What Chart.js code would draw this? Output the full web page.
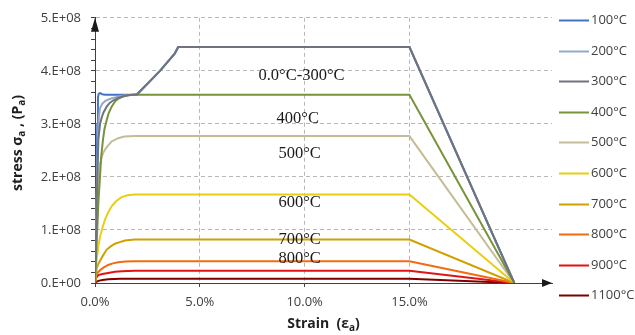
<!DOCTYPE html>
<html>
<head>
<meta charset="utf-8">
<script src="https://cdn.jsdelivr.net/npm/chart.js@4/dist/chart.umd.min.js"></script>
<style>
  body { margin: 0; background: #fff; }
</style>
</head>
<body>
<canvas id="stress-chart" width="635" height="335"></canvas>
<script>
// Temperature series (legend order) and line colours
const temperatures = ['100°C', '200°C', '300°C', '400°C', '500°C', '600°C', '700°C', '800°C', '900°C', '1100°C'];
const lineColors = ['#4472c4', '#93a9c9', '#6e737d', '#77933c', '#c4bd97', '#e8cf12', '#d0a000', '#f26b12', '#e01414', '#7f0000'];

// Strain (fraction) / stress (Pa) points for each temperature
const strain100 = [0, 0.0006, 0.0011, 0.0014, 0.0018, 0.0024, 0.0035, 0.0048, 0.02, 0.031, 0.0381, 0.0397, 0.15, 0.20];
const stress100 = [0, 1.5e8, 3.0e8, 3.5e8, 3.57e8, 3.58e8, 3.56e8, 3.55e8, 3.55e8, 4.0e8, 4.33e8, 4.45e8, 4.45e8, 0];

const strain200 = [0, 0.0008, 0.0014, 0.0019, 0.0024, 0.0035, 0.0048, 0.007, 0.0095, 0.0143, 0.02, 0.031, 0.0381, 0.0397, 0.15, 0.20];
const stress200 = [0, 1.6e8, 2.8e8, 3.15e8, 3.3e8, 3.38e8, 3.43e8, 3.47e8, 3.5e8, 3.54e8, 3.55e8, 4.0e8, 4.33e8, 4.45e8, 4.45e8, 0];

const strain300 = [0, 0.0008, 0.0016, 0.0024, 0.0032, 0.004, 0.0055, 0.0071, 0.009, 0.0111, 0.0135, 0.0159, 0.02, 0.031, 0.0381, 0.0397, 0.15, 0.20];
const stress300 = [0, 1.5e8, 2.7e8, 3.0e8, 3.12e8, 3.21e8, 3.32e8, 3.4e8, 3.45e8, 3.49e8, 3.52e8, 3.54e8, 3.56e8, 4.0e8, 4.33e8, 4.45e8, 4.45e8, 0];

const strain400 = [0, 0.0016, 0.003, 0.0038, 0.0045, 0.0055, 0.0065, 0.008, 0.0095, 0.011, 0.013, 0.0155, 0.018, 0.15, 0.20];
const stress400 = [0, 1.5e8, 2.4e8, 2.7e8, 2.9e8, 3.06e8, 3.2e8, 3.33e8, 3.42e8, 3.47e8, 3.51e8, 3.54e8, 3.55e8, 3.55e8, 0];

const strain500 = [0, 0.0008, 0.0016, 0.0024, 0.0032, 0.004, 0.005, 0.006, 0.008, 0.0095, 0.011, 0.014, 0.019, 0.15, 0.20];
const stress500 = [0, 1.2e8, 2.0e8, 2.25e8, 2.37e8, 2.46e8, 2.53e8, 2.58e8, 2.67e8, 2.7e8, 2.73e8, 2.76e8, 2.77e8, 2.77e8, 0];

const strain600 = [0, 0.0008, 0.0016, 0.0024, 0.0036, 0.0048, 0.0064, 0.008, 0.01, 0.0127, 0.0155, 0.019, 0.15, 0.20];
const stress600 = [0, 0.45e8, 0.7e8, 0.87e8, 1.05e8, 1.2e8, 1.34e8, 1.45e8, 1.54e8, 1.62e8, 1.655e8, 1.67e8, 1.67e8, 0];

const strain700 = [0, 0.0008, 0.0016, 0.0024, 0.004, 0.0056, 0.0075, 0.0095, 0.0118, 0.0143, 0.019, 0.15, 0.20];
const stress700 = [0, 0.28e8, 0.36e8, 0.42e8, 0.53e8, 0.63e8, 0.69e8, 0.74e8, 0.77e8, 0.8e8, 0.82e8, 0.82e8, 0];

const strain800 = [0, 0.0006, 0.0014, 0.0024, 0.004, 0.0063, 0.0085, 0.0111, 0.0145, 0.019, 0.15, 0.20];
const stress800 = [0, 0.15e8, 0.2e8, 0.24e8, 0.29e8, 0.34e8, 0.37e8, 0.39e8, 0.405e8, 0.41e8, 0.41e8, 0];

const strain900 = [0, 0.0006, 0.0016, 0.0035, 0.0063, 0.0095, 0.0127, 0.019, 0.15, 0.20];
const stress900 = [0, 0.1e8, 0.15e8, 0.17e8, 0.19e8, 0.21e8, 0.22e8, 0.23e8, 0.23e8, 0];

const strain1100 = [0, 0.0006, 0.0016, 0.0035, 0.0063, 0.012, 0.15, 0.20];
const stress1100 = [0, 0.02e8, 0.04e8, 0.055e8, 0.07e8, 0.08e8, 0.08e8, 0];

const seriesStrain = [strain100, strain200, strain300, strain400, strain500, strain600, strain700, strain800, strain900, strain1100];
const seriesStress = [stress100, stress200, stress300, stress400, stress500, stress600, stress700, stress800, stress900, stress1100];

// Text labels written next to the curves
const curveNotes = ['0.0°C-300°C', '400°C', '500°C', '600°C', '700°C', '800°C'];
const noteStrain = [0.0985, 0.0967, 0.0976, 0.0976, 0.0976, 0.0976];
const noteStress = [3.9e8, 3.09e8, 2.43e8, 1.52e8, 0.81e8, 0.45e8];

const tickFont = { family: 'Open Sans', size: 13 };
const textGray = '#404040';
const gridGray = '#b8b8b8';

const isMajor = v => Math.abs(v / 1e8 - Math.round(v / 1e8)) < 1e-6;

const datasets = temperatures.map((t, i) => ({
  label: t,
  data: seriesStrain[i].map((x, k) => ({ x: x, y: seriesStress[i][k] })),
  borderColor: lineColors[i],
  backgroundColor: lineColors[i],
  borderWidth: 2,
  pointRadius: 0,
  tension: 0,
  fill: false,
  order: i === 0 ? 2 : (i === 1 ? 1 : 0)
}));

// Arrow heads at the ends of both axes
const axisArrows = {
  id: 'axisArrows',
  afterDraw(chart) {
    const { ctx, chartArea: a } = chart;
    ctx.save();
    ctx.fillStyle = '#1a1a1a';
    ctx.beginPath();
    ctx.moveTo(a.left, a.top);
    ctx.lineTo(a.left - 4, a.top + 14);
    ctx.lineTo(a.left + 4, a.top + 14);
    ctx.closePath();
    ctx.fill();
    ctx.beginPath();
    ctx.moveTo(a.right, a.bottom);
    ctx.lineTo(a.right - 10, a.bottom - 4);
    ctx.lineTo(a.right - 10, a.bottom + 4);
    ctx.closePath();
    ctx.fill();
    ctx.restore();
  }
};

// Draws a run of [text, isSubscript] pieces starting at x
function drawPieces(ctx, pieces, x, y) {
  pieces.forEach(([txt, sub]) => {
    ctx.font = sub ? 'bold 10px "Open Sans"' : 'bold 14px "Open Sans"';
    ctx.fillText(txt, x, sub ? y + 4 : y);
    x += ctx.measureText(txt).width;
  });
}
function piecesWidth(ctx, pieces) {
  let w = 0;
  pieces.forEach(([txt, sub]) => {
    ctx.font = sub ? 'bold 10px "Open Sans"' : 'bold 14px "Open Sans"';
    w += ctx.measureText(txt).width;
  });
  return w;
}

// Axis titles with subscripts
const axisTitles = {
  id: 'axisTitles',
  afterDraw(chart) {
    const { ctx, chartArea: a } = chart;
    ctx.save();
    ctx.fillStyle = '#1f1f1f';
    ctx.textBaseline = 'middle';
    ctx.textAlign = 'left';
    const xt = [['Strain  (ε', false], ['a', true], [')', false]];
    drawPieces(ctx, xt, (a.left + a.right) / 2 - piecesWidth(ctx, xt) / 2, 324);
    const yt = [['stress σ', false], ['a', true], [' , (P', false], ['a', true], [')', false]];
    ctx.translate(18, 143);
    ctx.rotate(-Math.PI / 2);
    drawPieces(ctx, yt, -piecesWidth(ctx, yt) / 2, 0);
    ctx.restore();
  }
};

// Temperature notes placed on the plot in data units
const noteLabels = {
  id: 'noteLabels',
  afterDatasetsDraw(chart) {
    const { ctx, scales } = chart;
    ctx.save();
    ctx.font = '16.5px "Liberation Serif"';
    ctx.fillStyle = '#1a1a1a';
    ctx.textAlign = 'center';
    ctx.textBaseline = 'middle';
    curveNotes.forEach((n, i) => {
      ctx.fillText(n, scales.x.getPixelForValue(noteStrain[i]), scales.y.getPixelForValue(noteStress[i]));
    });
    ctx.restore();
  }
};

// Single-column legend on the right
const sideLegend = {
  id: 'sideLegend',
  afterDraw(chart) {
    const { ctx } = chart;
    ctx.save();
    ctx.font = '13px "Open Sans"';
    ctx.textBaseline = 'middle';
    ctx.textAlign = 'left';
    chart.data.datasets.forEach((ds, i) => {
      const y = Math.round(20 + i * 30.6) + 0.5;
      ctx.strokeStyle = ds.borderColor;
      ctx.lineWidth = 2;
      ctx.beginPath();
      ctx.moveTo(559, y);
      ctx.lineTo(589, y);
      ctx.stroke();
      ctx.fillStyle = textGray;
      ctx.fillText(ds.label, 591, y);
    });
    ctx.restore();
  }
};

new Chart(document.getElementById('stress-chart'), {
  type: 'line',
  data: { datasets: datasets },
  plugins: [noteLabels, axisArrows, axisTitles, sideLegend],
  options: {
    responsive: false,
    animation: false,
    devicePixelRatio: 1,
    layout: { padding: { top: 16, right: 83, left: 0, bottom: 0 } },
    plugins: { legend: { display: false }, tooltip: { enabled: false } },
    scales: {
      x: {
        type: 'linear',
        min: 0,
        max: 0.218,
        afterBuildTicks: s => { s.ticks = s.ticks.filter(t => t.value <= 0.2 + 1e-9); },
        afterFit: s => { s.height = 52; },
        ticks: {
          stepSize: 0.05,
          padding: 7,
          maxRotation: 0,
          autoSkip: false,
          color: textGray,
          font: tickFont,
          callback: v => (v * 100).toFixed(1) + '%'
        },
        grid: {
          color: c => (c.tick && c.tick.value > 0 ? gridGray : 'rgba(0,0,0,0)'),
          tickColor: textGray,
          tickLength: 4
        },
        border: { color: textGray, width: 1, dash: [4, 3] }
      },
      y: {
        type: 'linear',
        min: 0,
        max: 5e8,
        afterFit: s => { s.width = 95; },
        ticks: {
          stepSize: 2e7,
          padding: 10,
          autoSkip: false,
          color: textGray,
          font: tickFont,
          callback: v => (isMajor(v) ? Math.round(v / 1e8) + (v === 0 ? '.E+00' : '.E+08') : '')
        },
        grid: {
          color: c => (c.tick && c.tick.value > 0 && isMajor(c.tick.value) ? gridGray : 'rgba(0,0,0,0)'),
          tickColor: textGray,
          tickLength: 4
        },
        border: { color: textGray, width: 1, dash: [4, 3] }
      }
    }
  }
});
</script>
</body>
</html>
